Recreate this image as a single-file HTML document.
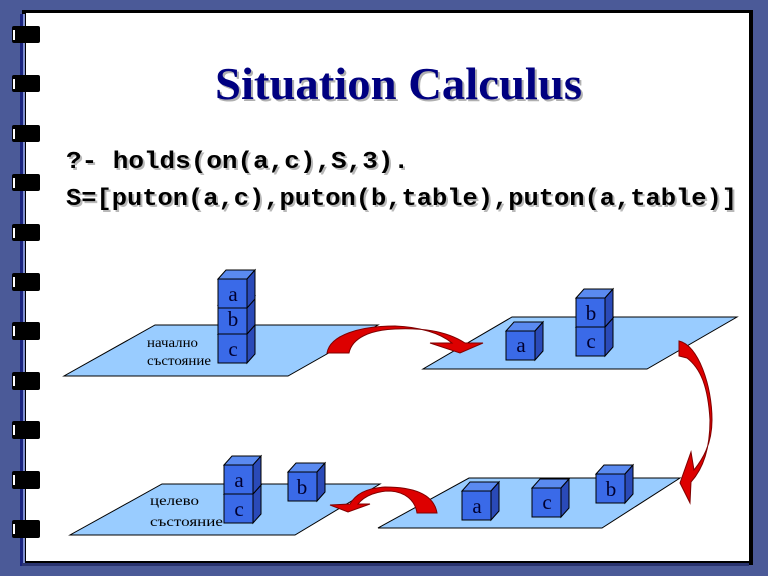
<!DOCTYPE html>
<html><head><meta charset="utf-8"><style>
html,body{margin:0;padding:0;background:#4b5a98;}
svg{display:block;}
</style></head><body>
<svg width="768" height="576" xmlns="http://www.w3.org/2000/svg">
<rect x="0" y="0" width="768" height="576" fill="#4b5a98"/>
<rect x="22" y="10" width="731" height="555" fill="#000"/>
<rect x="26" y="13" width="723" height="548" fill="#fff"/>
<rect x="20" y="14" width="3" height="552" fill="#1a237e"/>
<rect x="23" y="14" width="2" height="550" fill="#8090d0"/>
<rect x="22" y="563" width="727" height="3" fill="#2a3470"/>
<g fill="#000">
<rect x="12" y="26" width="28" height="17" rx="2"/>
<rect x="12" y="75" width="28" height="17" rx="2"/>
<rect x="12" y="125" width="28" height="17" rx="2"/>
<rect x="12" y="174" width="28" height="17" rx="2"/>
<rect x="12" y="224" width="28" height="17" rx="2"/>
<rect x="12" y="273" width="28" height="18" rx="2"/>
<rect x="12" y="322" width="28" height="18" rx="2"/>
<rect x="12" y="372" width="28" height="18" rx="2"/>
<rect x="12" y="421" width="28" height="18" rx="2"/>
<rect x="12" y="471" width="28" height="18" rx="2"/>
<rect x="12" y="520" width="28" height="18" rx="2"/>
</g>
<g fill="#fff">
<rect x="13" y="30" width="2" height="10"/><rect x="13" y="79" width="2" height="10"/><rect x="13" y="129" width="2" height="10"/><rect x="13" y="178" width="2" height="10"/><rect x="13" y="228" width="2" height="10"/><rect x="13" y="277" width="2" height="10"/><rect x="13" y="326" width="2" height="10"/><rect x="13" y="376" width="2" height="10"/><rect x="13" y="425" width="2" height="10"/><rect x="13" y="475" width="2" height="10"/><rect x="13" y="524" width="2" height="10"/>
</g>
<text x="217" y="101" textLength="367" lengthAdjust="spacingAndGlyphs" font-family="Liberation Serif, serif" font-weight="bold" font-size="45" fill="#b0b0b0">Situation Calculus</text>
<text x="215" y="99" textLength="367" lengthAdjust="spacingAndGlyphs" font-family="Liberation Serif, serif" font-weight="bold" font-size="45" fill="#000080">Situation Calculus</text>
<g font-family="Liberation Mono, monospace" font-weight="bold" font-size="24" >
<text x="68" y="170" fill="#b8b8b8" textLength="343" lengthAdjust="spacingAndGlyphs">?- holds(on(a,c),S,3).</text>
<text x="68" y="207" fill="#b8b8b8" textLength="671" lengthAdjust="spacingAndGlyphs">S=[puton(a,c),puton(b,table),puton(a,table)]</text>
<text x="66" y="168" fill="#000" textLength="343" lengthAdjust="spacingAndGlyphs">?- holds(on(a,c),S,3).</text>
<text x="66" y="205" fill="#000" textLength="671" lengthAdjust="spacingAndGlyphs">S=[puton(a,c),puton(b,table),puton(a,table)]</text>
</g>
<g fill="#99ccff" stroke="#000" stroke-width="1">
<polygon points="155,325 378,325 288,376 64,376"/>
<polygon points="512,317 737,317 647,369 423,369"/>
<polygon points="469,478 680,478 602,528 378,528"/>
<polygon points="162,484 380,484 295,535 70,535"/>
</g>
<defs>
<g id="cube">
<polygon points="0,0 8,-9 37,-9 29,0" fill="#5a8af0" stroke="#000" stroke-width="1"/>
<polygon points="29,0 37,-9 37,20 29,29" fill="#2a4ab8" stroke="#000" stroke-width="1"/>
<rect x="0" y="0" width="29" height="29" fill="#3a6ae8" stroke="#000" stroke-width="1"/>
</g>
</defs>
<g font-family="Liberation Serif, serif" font-size="21" fill="#000030" text-anchor="middle">
<use href="#cube" x="218" y="334"/><text x="233" y="356">c</text>
<use href="#cube" x="218" y="305"/><text x="233" y="326">b</text>
<use href="#cube" x="218" y="279"/><text x="233" y="301">a</text>
<use href="#cube" x="506" y="331"/><text x="521" y="352">a</text>
<use href="#cube" x="576" y="327"/><text x="591" y="348">c</text>
<use href="#cube" x="576" y="298"/><text x="591" y="320">b</text>
<use href="#cube" x="462" y="491"/><text x="477" y="513">a</text>
<use href="#cube" x="532" y="488"/><text x="547" y="509">c</text>
<use href="#cube" x="596" y="474"/><text x="611" y="496">b</text>
<use href="#cube" x="224" y="494"/><text x="239" y="516">c</text>
<use href="#cube" x="224" y="465"/><text x="239" y="487">a</text>
<use href="#cube" x="288" y="472"/><text x="302" y="494">b</text>
</g>
<g font-family="Liberation Serif, 'DejaVu Serif', serif" font-size="14" fill="#000">
<text x="147" y="347" textLength="51" lengthAdjust="spacingAndGlyphs">начално</text>
<text x="147" y="365" textLength="64" lengthAdjust="spacingAndGlyphs">състояние</text>
<text x="150" y="505" textLength="49" lengthAdjust="spacingAndGlyphs">целево</text>
<text x="150" y="526" textLength="73" lengthAdjust="spacingAndGlyphs">състояние</text>
</g>
<g fill="#dd0000" stroke="#800000" stroke-width="1">
<path d="M327,353 C330,335 360,326 395,326 C420,327 440,333 452,343 L430,343 L460,353 L483,343 L465,343 C445,330 420,328 395,329 C370,330 352,338 349,353 Z"/>
<path d="M679,341 C698,345 712,385 712,420 C712,445 702,460 694,470 L691,452 L680,483 L690,503 L691,482 C702,470 710,450 710,420 C708,385 700,368 687,358 L679,356 Z"/>
<path d="M437,513 C434,495 415,487 385,487 C365,488 355,495 350,504 L330,505 L348,512 L370,504 L358,504 C365,495 378,491 390,491 C405,492 415,500 417,513 Z"/>
</g>
</svg>
</body></html>
